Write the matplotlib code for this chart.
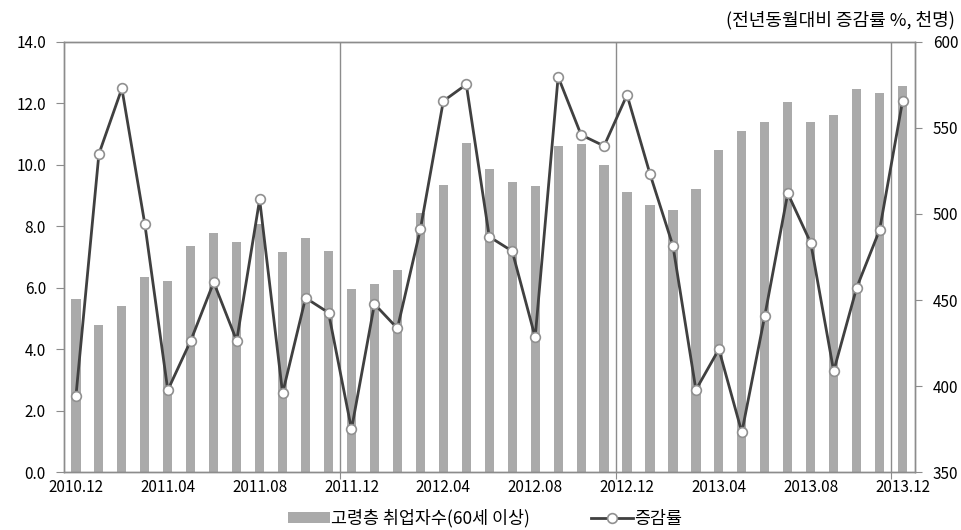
import numpy as np
import matplotlib.pyplot as plt

plt.rcParams['font.family'] = ['Noto Sans CJK KR', 'DejaVu Sans']

# 월 (2010.12 ~ 2013.12)
months = []
for y, m in [(2010, 12)] + [(yy, mm) for yy in (2011, 2012, 2013) for mm in range(1, 13)]:
    months.append(f"{y}.{m:02d}")

# 고령층 취업자수 (천명, 오른쪽 축)
employed = [450.6, 435.5, 446.5, 463.4, 460.9, 481.2, 488.8, 483.7, 494.0, 477.7,
            486.2, 478.7, 456.6, 459.1, 467.6, 500.5, 516.8, 541.2, 525.9, 518.4,
            516.0, 539.6, 540.4, 528.6, 512.6, 505.0, 502.3, 514.3, 537.1, 548.2,
            553.2, 565.2, 553.2, 557.4, 572.5, 570.4, 574.3]

# 증감률 (%, 왼쪽 축)
rate = [2.48, 10.35, 12.48, 8.07, 2.67, 4.28, 6.18, 4.28, 8.87, 2.57,
        5.67, 5.19, 1.40, 5.47, 4.68, 7.90, 12.07, 12.61, 7.66, 7.19,
        4.39, 12.86, 10.97, 10.61, 12.27, 9.70, 7.36, 2.68, 4.00, 1.30,
        5.09, 9.07, 7.46, 3.29, 6.00, 7.88, 12.07]

x = np.arange(len(months))
axis_col = "#8c8c8c"

fig = plt.figure(figsize=(9.61, 5.30), dpi=100)
ax = fig.add_axes([0.0666, 0.1089, 0.9521 - 0.0666, 0.9213 - 0.1089])
ax2 = ax.twinx()

# 막대 (오른쪽 축)
ax2.bar(x, employed, width=0.4, color="#aaaaaa", zorder=2, label="고령층 취업자수(60세 이상)")
ax2.set_ylim(350, 600)
ax2.set_yticks(np.arange(350, 601, 50))

# 선 (왼쪽 축)
ax.set_zorder(ax2.get_zorder() + 1)
ax.patch.set_visible(False)
ax.plot(x, rate, "-", color="#404040", linewidth=2, marker="o", markersize=7,
        markerfacecolor="white", markeredgecolor="#909090", markeredgewidth=1.2,
        label="증감률", zorder=3)
ax.set_ylim(0, 14)
ax.set_yticks(np.arange(0, 14.1, 2))
ax.set_yticklabels([f"{v:.1f}" for v in np.arange(0, 14.1, 2)])

ax.set_xlim(-0.52, 36.54)

# 연도 구분선
for b in [11.5, 23.5, 35.5]:
    ax.axvline(b, color=axis_col, linewidth=1, zorder=1)

ax.set_xticks([11.5, 23.5, 35.5])
ax.set_xticklabels([])
ax.set_xticks(x[::4], minor=True)
ax.set_xticklabels([months[i] for i in x[::4]], minor=True)
ax.tick_params(axis="x", which="major", length=5, color=axis_col, direction="out")
ax.tick_params(axis="x", which="minor", length=0, labelsize=11, pad=5)
ax.tick_params(axis="y", length=6, color=axis_col, labelsize=11, pad=7)
ax2.tick_params(axis="y", length=5, color=axis_col, labelsize=11, pad=8)

for a in (ax, ax2):
    for s in a.spines.values():
        s.set_color(axis_col)
        s.set_linewidth(1)

fig.text(0.994, 0.962, "(전년동월대비 증감률 %, 천명)", ha="right", va="center", fontsize=13)

h1, l1 = ax2.get_legend_handles_labels()
h2, l2 = ax.get_legend_handles_labels()
fig.legend(h1 + h2, l1 + l2, loc="center", bbox_to_anchor=(0.505, 0.022), ncol=2,
           frameon=False, fontsize=12.5, handlelength=2.4, handletextpad=0.1,
           columnspacing=3.5, handleheight=0.6)

fig.savefig("out.png", dpi=100)
